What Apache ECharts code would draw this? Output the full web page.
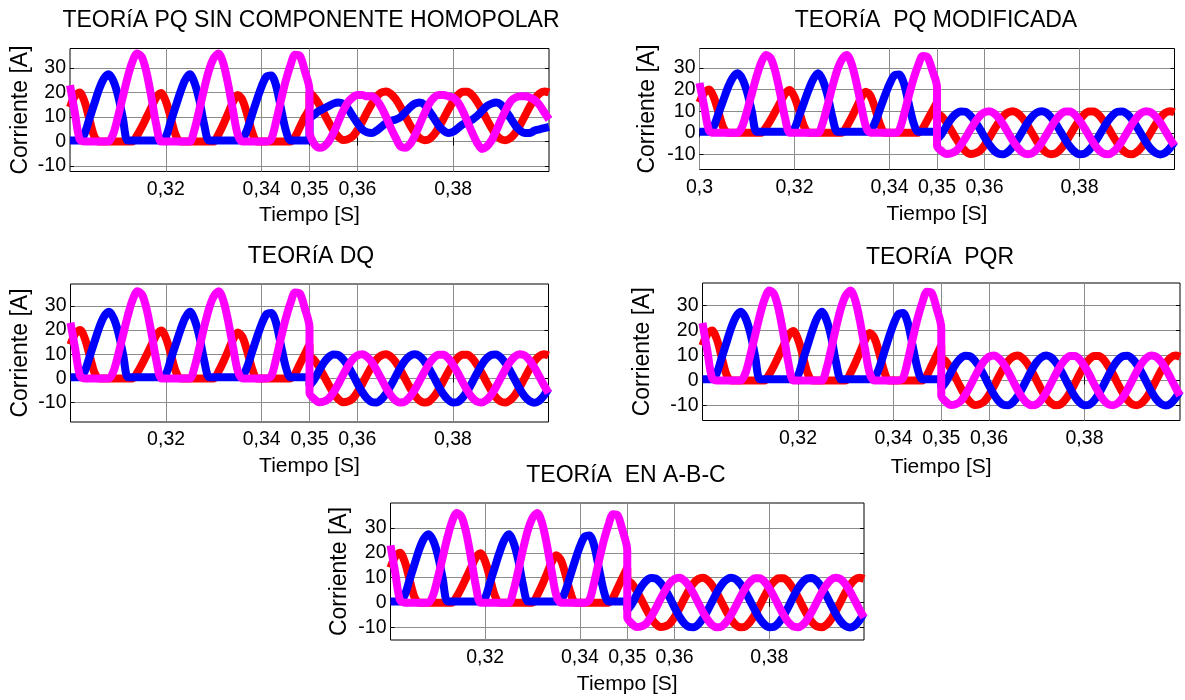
<!DOCTYPE html>
<html>
<head>
<meta charset="utf-8">
<title>Corriente - teorias de control</title>
<script src="https://cdn.jsdelivr.net/npm/echarts@6/dist/echarts.min.js"></script>
<style>
  html, body { margin: 0; padding: 0; background: #ffffff; }
  #main { width: 1185px; height: 700px; }
</style>
</head>
<body>
<div id="main"></div>
<script>
// tiempo en ms (eje x), tramo antes y despues de 0,35 s
const tPre = [300, 301, 302, 303, 304, 305, 306, 307, 308, 309, 310, 311, 312, 313, 314, 315, 316, 317, 318, 319,
  320, 321, 322, 323, 324, 325, 326, 327, 328, 329, 330, 331, 332, 333, 334, 335, 336, 337, 338, 339,
  340, 341, 342, 343, 344, 345, 346, 347, 348, 349, 350];
const tPost = [350, 351, 352, 353, 354, 355, 356, 357, 358, 359, 360, 361, 362, 363, 364, 365, 366, 367, 368, 369,
  370, 371, 372, 373, 374, 375, 376, 377, 378, 379, 380, 381, 382, 383, 384, 385, 386, 387, 388, 389,
  390, 391, 392, 393, 394, 395, 396, 397, 398, 399, 400];

// corrientes antes de 0,35 s (igual en las cinco graficas)
const redPre = [14, 18.5, 20, 16.5, 9.5, 2.5, 0, 0, 0, 0, 0, 0, 0, 0, 2.5, 6, 10, 14, 18, 19.8,
  16.5, 10, 3, 0, 0, 0, 0, 0, 0, 0, 0, 3, 7, 11.5, 16, 19, 17, 11, 4, 0,
  0, 0, 0, 0, 0, 0, 0, 2, 6, 10, 14];
const bluePre = [0.5, 0.5, 0.5, 3, 9, 15, 21, 25.5, 27.5, 25, 19, 10, 0.5, 0.5, 0.5, 0.5, 0.5, 0.5, 0.5, 0.5,
  2, 8, 14, 20, 25, 27.5, 24, 17, 7, 0.5, 0.5, 0.5, 0.5, 0.5, 0.5, 0.5, 1, 5, 11, 17,
  22.5, 26.5, 27, 23, 14, 5, 0.5, 0.5, 0.5, 0.5, 0.5];
const magPre = [23, 12, 1, 0, 0, 0, 0, 0, 0, 3, 10, 18, 26, 32.5, 36, 34.5, 28, 18, 7, 0,
  0, 0, 0, 0, 0, 0, 5, 13, 21.5, 29, 34, 36, 32, 23.5, 13, 3, 0, 0, 0, 0,
  0, 0, 1, 8, 16.5, 24.5, 31, 35.5, 35, 29, 21];

// despues de 0,35 s: PQ modificada, DQ, PQR, A-B-C
const redPost = [9.5, 7.6, 4.7, 1.1, -2.6, -6.0, -8.5, -9.8, -9.5, -8.4, -5.8, -2.4, 1.4, 4.9, 7.8, 9.5, 10, 9.0, 6.8, 3.6,
  -0.1, -3.8, -6.9, -9.1, -9.9, -9.5, -7.6, -4.7, -1.1, 2.6, 6.0, 8.5, 9.8, 9.8, 8.4, 5.7, 2.4, -1.4, -4.9, -7.8,
  -9.5, -9.9, -9.0, -6.8, -3.6, 0.1, 3.8, 6.9, 9.1, 10, 9.5];
const bluePost = [-3, -0.5, 3.2, 6.5, 8.8, 9.9, 9.7, 8.0, 5.3, 1.8, -2.0, -5.5, -8.2, -9.7, -9.9, -8.7, -6.3, -3.0, 0.7, 4.4,
  7.4, 9.3, 10, 9.3, 7.2, 4.1, 0.5, -3.2, -6.5, -8.8, -9.9, -9.7, -8.0, -5.3, -1.8, 2.0, 5.5, 8.2, 9.7, 9.9,
  8.7, 6.3, 3.0, -0.7, -4.4, -7.4, -9.3, -10, -9.3, -7.2, -4.1];
const magPost = [-6.0, -8.5, -9.8, -9.5, -8.4, -5.8, -2.4, 1.4, 4.9, 7.8, 9.5, 10, 9.0, 6.8, 3.6, -0.1, -3.8, -6.9, -9.1, -9.9,
  -9.5, -7.6, -4.7, -1.1, 2.6, 6.0, 8.5, 9.8, 9.8, 8.4, 5.7, 2.4, -1.4, -4.9, -7.8, -9.5, -9.9, -9.0, -6.8, -3.6,
  0.1, 3.8, 6.9, 9.1, 10, 9.5, 7.6, 4.7, 1.1, -2.6, -6.0];

// despues de 0,35 s: PQ sin componente homopolar
const redPostH = [20, 18.1, 15.2, 11.6, 7.9, 4.5, 2, 0.7, 1, 2.1, 4.7, 8.1, 11.9, 15.4, 18.3, 20, 20.5, 19.5, 17.3, 14.1,
  10.4, 6.7, 3.6, 1.4, 0.6, 1, 2.9, 5.8, 9.4, 13.1, 16.5, 19, 20.3, 20.3, 18.9, 16.2, 12.9, 9.1, 5.6, 2.7,
  1, 0.6, 1.5, 3.7, 6.9, 10.6, 14.3, 17.4, 19.6, 20.5, 20];
const bluePostH = [9, 11, 12.5, 13.5, 14.5, 15.5, 16, 15.5, 13.5, 10.5, 7.5, 5, 3.8, 3.5, 4.5, 6, 7.5, 8.5, 9, 10,
  12, 14, 15.5, 16, 15, 12.5, 9.5, 6.5, 4.5, 3.5, 4, 5.5, 7, 8, 9, 10.5, 12.5, 14.5, 15.5, 16,
  15, 12.5, 9.5, 6.5, 4.5, 3.5, 3.5, 4.5, 5, 5.5, 6];
const magPostH = [4, -1, -2.5, -2, 0, 3.5, 8, 12.5, 16, 18, 19, 19, 18.5, 18.5, 17, 14, 10, 5.5, 1.5, -2,
  -2.5, -1, 2.5, 7, 11.5, 15.5, 18, 19, 19, 18.5, 18, 16, 12.5, 8, 3.5, -0.5, -3, -2, 0.5, 4.5,
  9, 13, 16.5, 18, 18.5, 18.5, 18, 17, 15, 12, 9];

const xTicks = [320, 340, 350, 360, 380];
const xTicksMod = [300, 320, 340, 350, 360, 380];
const yTicks = [-10, 0, 10, 20, 30];
const titles = ['TEORíA PQ SIN COMPONENTE HOMOPOLAR', 'TEORíA  PQ MODIFICADA', 'TEORíA DQ', 'TEORíA  PQR', 'TEORíA  EN A-B-C'];

const FONT = "'Liberation Sans', Arial, sans-serif";
const homopolar = {red: redPostH, blue: bluePostH, mag: magPostH};
const balanced = {red: redPost, blue: bluePost, mag: magPost};

const panels = [
  {tx: 311, ty: 21, left: 70, top: 48.5, width: 479, height: 123, yMin: -12.2, yMax: 38, ticks: xTicks, post: homopolar, yGap: 38, xGap: 33},
  {tx: 936, ty: 21, left: 699.5, top: 48.5, width: 475, height: 121, yMin: -17, yMax: 39, ticks: xTicksMod, post: balanced, yGap: 40, xGap: 34},
  {tx: 311, ty: 257, left: 70.5, top: 284, width: 478, height: 138, yMin: -18, yMax: 39, ticks: xTicks, post: balanced, yGap: 38, xGap: 34},
  {tx: 940, ty: 258, left: 702.5, top: 283, width: 477.5, height: 137.5, yMin: -16, yMax: 39, ticks: xTicks, post: balanced, yGap: 48, xGap: 36},
  {tx: 626, ty: 476, left: 390.5, top: 503, width: 473.5, height: 137, yMin: -15, yMax: 40, ticks: xTicks, post: balanced, yGap: 39, xGap: 34}
];

function pairs(ts, vs) {
  return ts.map((t, i) => [t, vs[i]]);
}

function xLabel(v) {
  return String(v / 1000).replace('.', ',');
}

let grid = [], xAxis = [], yAxis = [], series = [], graphic = [];

panels.forEach((p, i) => {
  grid.push({
    left: p.left, top: p.top, width: p.width, height: p.height,
    show: true, borderColor: '#000', borderWidth: 1, backgroundColor: '#fff'
  });
  xAxis.push({
    type: 'value', gridIndex: i, min: 300, max: 400, position: 'bottom',
    name: 'Tiempo [S]', nameLocation: 'middle', nameGap: p.xGap,
    nameTextStyle: {fontFamily: FONT, fontSize: 21, color: '#000'},
    axisLine: {show: false},
    axisTick: {inside: true, length: 4, lineStyle: {color: '#000'}, customValues: p.ticks},
    axisLabel: {fontFamily: FONT, fontSize: 19.5, color: '#000', margin: 8, formatter: xLabel, customValues: p.ticks},
    splitLine: {show: true, lineStyle: {color: '#8c8c8c', width: 1}}
  });
  xAxis.push({
    type: 'value', gridIndex: i, min: 300, max: 400, position: 'top',
    axisLine: {show: false},
    axisTick: {inside: true, length: 4, lineStyle: {color: '#000'}, customValues: p.ticks},
    axisLabel: {show: false},
    splitLine: {show: false}
  });
  yAxis.push({
    type: 'value', gridIndex: i, min: p.yMin, max: p.yMax, position: 'left',
    name: 'Corriente [A]', nameLocation: 'middle', nameGap: p.yGap,
    nameTextStyle: {fontFamily: FONT, fontSize: 23, color: '#000'},
    axisLine: {show: false},
    axisTick: {inside: true, length: 4, lineStyle: {color: '#000'}, customValues: yTicks},
    axisLabel: {fontFamily: FONT, fontSize: 19.5, color: '#000', margin: 4, customValues: yTicks},
    splitLine: {show: true, lineStyle: {color: '#8c8c8c', width: 1}}
  });
  yAxis.push({
    type: 'value', gridIndex: i, min: p.yMin, max: p.yMax, position: 'right',
    axisLine: {show: false},
    axisTick: {inside: true, length: 4, lineStyle: {color: '#000'}, customValues: yTicks},
    axisLabel: {show: false},
    splitLine: {show: false}
  });

  const phases = [
    ['#ff0000', redPre, p.post.red],
    ['#0000ff', bluePre, p.post.blue],
    ['#ff00ff', magPre, p.post.mag]
  ];
  phases.forEach(ph => {
    series.push({
      type: 'line', xAxisIndex: 2 * i, yAxisIndex: 2 * i,
      data: pairs(tPre, ph[1]).concat(pairs(tPost, ph[2])),
      showSymbol: false, symbol: 'none', smooth: 0.3,
      lineStyle: {color: ph[0], width: 8},
      itemStyle: {color: ph[0]},
      animation: false, silent: true
    });
  });

  graphic.push({
    type: 'text', x: p.tx, y: p.ty,
    style: {
      text: titles[i], font: '23px ' + FONT, fill: '#000',
      textAlign: 'center', textVerticalAlign: 'middle', align: 'center', verticalAlign: 'middle'
    }
  });
});

let chart = echarts.init(document.getElementById('main'), null, {renderer: 'canvas'});
chart.setOption({
  animation: false,
  backgroundColor: '#fff',
  grid: grid,
  xAxis: xAxis,
  yAxis: yAxis,
  series: series,
  graphic: graphic
});
</script>
</body>
</html>
